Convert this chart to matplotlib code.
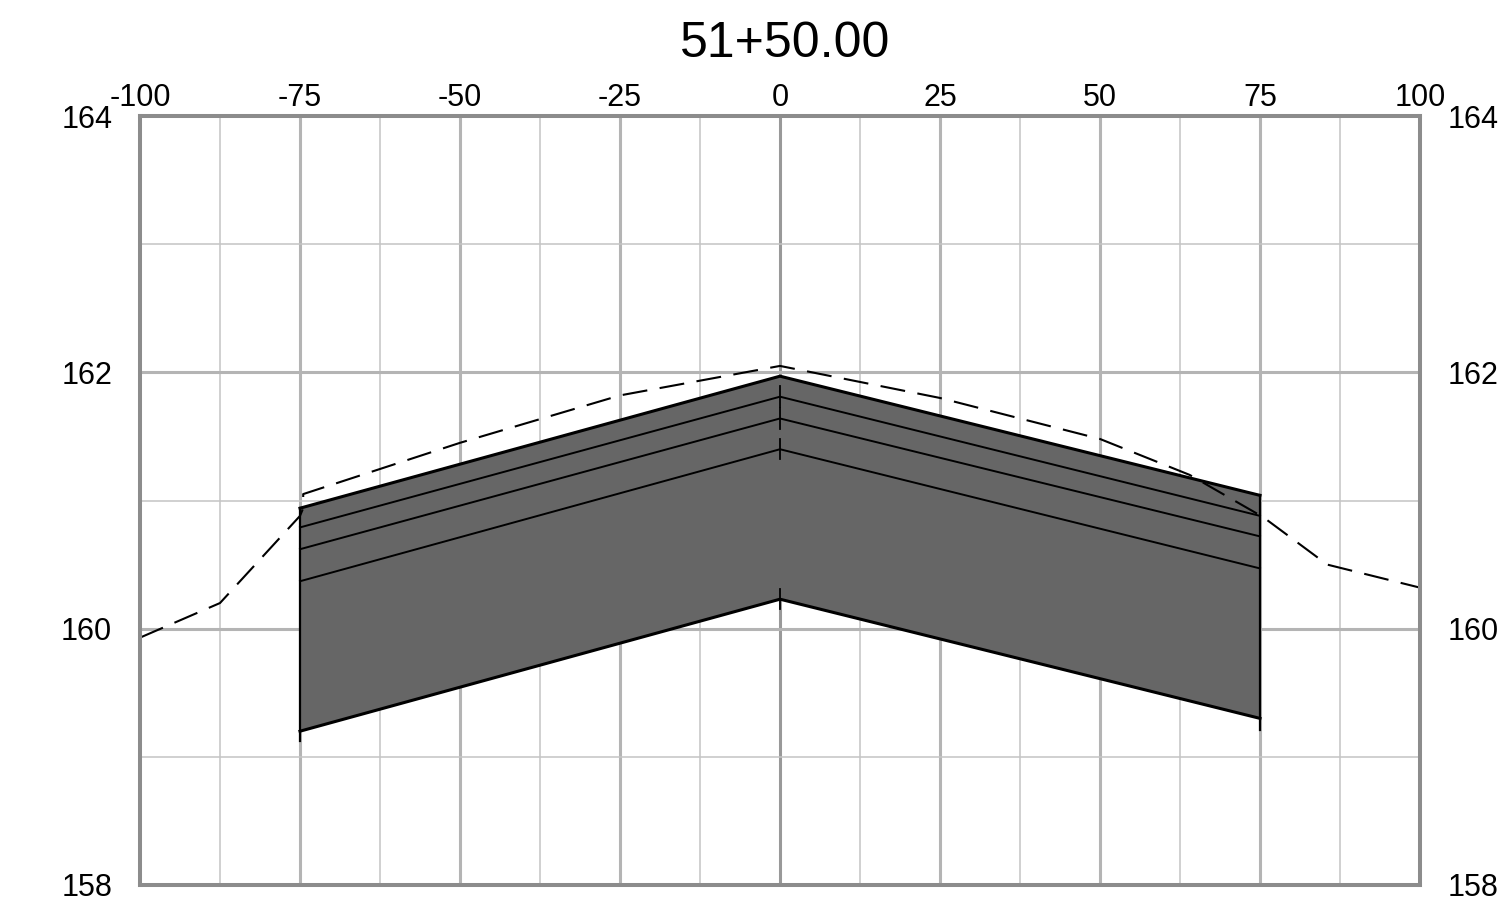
import numpy as np
import matplotlib.pyplot as plt

plt.rcParams['font.family'] = ['Liberation Sans', 'DejaVu Sans']
plt.rcParams['axes.unicode_minus'] = False

# Section title
title = "51+50.00"

# Existing ground (dashed), offset vs elevation
ground_x = [-100, -87.5, -75, -74.5, -74.5, -50, -25, 0, 25, 50, 64, 75.5, 85.5, 100]
ground_y = [159.93, 160.20, 160.88, 160.94, 161.05, 161.45, 161.82, 162.05, 161.80, 161.48, 161.20, 160.87, 160.50, 160.32]

# Proposed section: offsets and layer elevations
sec_x = [-75, 0, 75]
top = [160.94, 161.97, 161.04]
layer1 = [160.79, 161.81, 160.88]
layer2 = [160.62, 161.64, 160.72]
layer3 = [160.37, 161.40, 160.47]
bottom = [159.20, 160.23, 159.30]

x_ticks = [-100, -75, -50, -25, 0, 25, 50, 75, 100]
y_ticks = [158, 160, 162, 164]

fig = plt.figure(figsize=(15.01, 9.08), dpi=100)
ax = fig.add_axes([140 / 1501, 1 - 885 / 908, 1280 / 1501, 769 / 908])
ax.set_xlim(-100, 100)
ax.set_ylim(158, 164)

# grid: minor and major
for xv in np.arange(-87.5, 100, 12.5):
    if xv % 25 == 0:
        c, lw = ('#999999', 2.2) if xv == 0 else ('#b4b4b4', 2.2)
    else:
        c, lw = '#c4c4c4', 1.1
    ax.axvline(xv, color=c, lw=lw, zorder=0)
for yv in range(159, 164):
    if yv % 2 == 0:
        ax.axhline(yv, color='#b4b4b4', lw=2.2, zorder=0)
    else:
        ax.axhline(yv, color='#c4c4c4', lw=1.1, zorder=0)

# pavement body
ax.fill_between(sec_x, bottom, top, color='#666666', lw=0, zorder=2)
ax.plot(sec_x, top, color='black', lw=2.2, zorder=3)
ax.plot(sec_x, bottom, color='black', lw=2.2, zorder=3)
for lay in [layer1, layer2, layer3]:
    ax.plot(sec_x, lay, color='black', lw=1.4, zorder=3)

# vertical edges and vertex ticks
ax.plot([sec_x[0], sec_x[0]], [bottom[0] - 0.08, top[0]], color='black', lw=1.6, zorder=3)
ax.plot([sec_x[2], sec_x[2]], [bottom[2] - 0.09, top[2]], color='black', lw=1.6, zorder=3)
for lay in [layer1, layer2, layer3, bottom]:
    ax.plot([sec_x[1], sec_x[1]], [lay[1] - 0.08, lay[1] + 0.08], color='black', lw=1.3, zorder=3)

# existing ground
ax.plot(ground_x, ground_y, color='black', lw=1.5, linestyle=(0, (12, 6)), zorder=4)

# frame
for s in ax.spines.values():
    s.set_color('#8c8c8c')
    s.set_linewidth(2.9)
    s.set_zorder(5)

ax.set_xticks(x_ticks)
ax.set_yticks(y_ticks)
ax.tick_params(axis='x', top=True, bottom=False, labeltop=True, labelbottom=False,
               length=0, pad=2, labelsize=22)
ax.tick_params(axis='y', left=True, right=True, labelleft=True, labelright=True,
               length=0, pad=20, labelsize=22)

fig.text(785 / 1501, 1 - 44 / 908, title, fontsize=36, ha='center', va='center')

fig.savefig('out.png', dpi=100)
